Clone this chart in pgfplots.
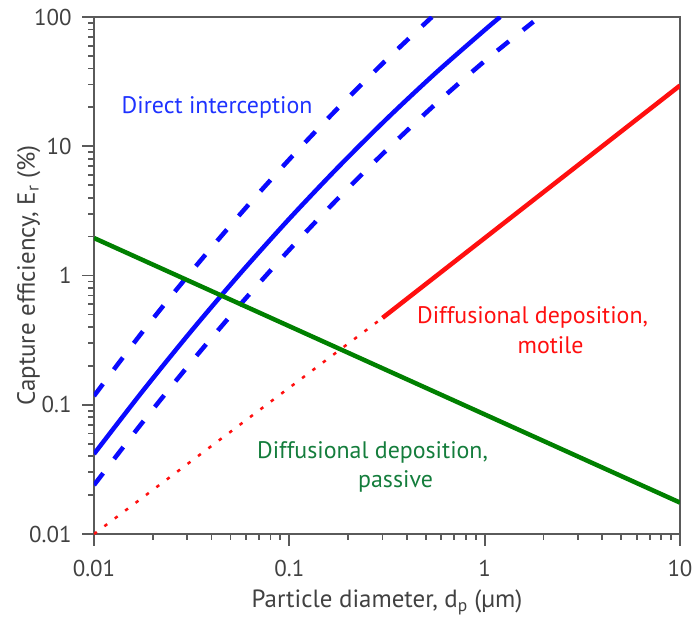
\documentclass[border=0pt]{standalone}
\usepackage{fontspec}
\setmainfont{PT Sans}
\usepackage{pgfplots}
\pgfplotsset{compat=1.18}
\definecolor{myblue}{RGB}{10,10,255}
\definecolor{txtblue}{RGB}{30,50,255}
\definecolor{myred}{RGB}{255,15,15}
\definecolor{mygreen}{RGB}{0,128,0}
\definecolor{txtgreen}{RGB}{20,125,60}
\definecolor{axgray}{RGB}{90,90,90}
\definecolor{txtgray}{RGB}{65,65,65}
\begin{document}
\begin{tikzpicture}
\path[use as bounding box] (0,0) rectangle (694bp,620bp);
\begin{axis}[
  at={(94bp,86bp)}, anchor=south west,
  scale only axis, width=586bp, height=517bp,
  xmode=log, ymode=log,
  xmin=0.01, xmax=10, ymin=0.01, ymax=100,
  xtick={0.01,0.1,1,10}, xticklabels={0.01,0.1,1,10},
  ytick={0.01,0.1,1,10,100}, yticklabels={0.01,0.1,1,10,100},
  minor xtick={0.02,0.03,0.04,0.05,0.06,0.07,0.08,0.09,0.2,0.3,0.4,0.5,0.6,0.7,0.8,0.9,2,3,4,5,6,7,8,9},
  minor ytick={0.02,0.03,0.04,0.05,0.06,0.07,0.08,0.09,0.2,0.3,0.4,0.5,0.6,0.7,0.8,0.9,2,3,4,5,6,7,8,9,20,30,40,50,60,70,80,90},
  tick pos=left, tick align=outside,
  major tick length=12bp, minor tick length=6bp,
  every tick/.style={axgray, line width=1.8bp},
  axis line style={axgray, line width=2.5bp},
  tick label style={font=\fontsize{23}{26}\selectfont, text=txtgray},
  xticklabel style={yshift=-11bp},
  yticklabel style={xshift=-7bp},
  label style={font=\fontsize{25}{28}\selectfont, text=txtgray},
  xlabel={Particle diameter, d\textsubscript{p} (µm)},
  ylabel={Capture efficiency, E\textsubscript{r} (\%)},
  xlabel style={at={(axis description cs:0.5,-0.1431)}, anchor=base},
  ylabel style={at={(axis description cs:-0.1007,0.5)}, anchor=base},
]
% direct interception, central estimate
\addplot[myblue, line width=4.5bp, smooth] coordinates {
 (0.01,0.0416) (0.01778,0.128) (0.03162,0.375) (0.05623,1.042) (0.1,2.75)
 (0.1778,6.88) (0.3162,16.37) (0.5623,36.98) (1.0,79.3) (1.2,100)};
% upper bound
\addplot[myblue, line width=4.5bp, smooth, dash pattern=on 15bp off 18bp] coordinates {
 (0.01,0.117) (0.01778,0.369) (0.03162,1.08) (0.05623,3.00) (0.1,7.92)
 (0.1778,19.8) (0.3162,47.1) (0.537,100)};
% lower bound
\addplot[myblue, line width=4.5bp, smooth, dash pattern=on 15bp off 18bp] coordinates {
 (0.01,0.0239) (0.01778,0.0736) (0.03162,0.2156) (0.05623,0.599) (0.1,1.581)
 (0.1778,3.956) (0.3162,9.41) (0.5623,21.3) (1.0,45.6) (1.778,92)};
% diffusional deposition, passive
\addplot[mygreen, line width=4.5bp] coordinates {(0.01,1.95) (10,0.0175)};
% diffusional deposition, motile
\addplot[myred, line width=2.5bp, dash pattern=on 3.5bp off 9.5bp] coordinates {(0.01,0.01) (0.3,0.47)};
\addplot[myred, line width=4.5bp] coordinates {(0.3,0.47) (10,29.5)};
\node[txtblue, anchor=base, inner sep=0pt, font=\fontsize{24}{30}\selectfont] at (axis cs:0.04266,18.03) {Direct interception};
\node[myred, anchor=base, inner sep=0pt, font=\fontsize{24}{30}\selectfont] at (axis cs:1.759,0.4285) {Diffusional deposition,};
\node[myred, anchor=base, inner sep=0pt, font=\fontsize{24}{30}\selectfont] at (axis cs:2.175,0.2513) {motile};
\node[txtgreen, anchor=base, inner sep=0pt, font=\fontsize{24}{30}\selectfont] at (axis cs:0.2667,0.0387) {Diffusional deposition,};
\node[txtgreen, anchor=base, inner sep=0pt, font=\fontsize{24}{30}\selectfont] at (axis cs:0.3498,0.0227) {passive};
\end{axis}
\end{tikzpicture}
\end{document}
